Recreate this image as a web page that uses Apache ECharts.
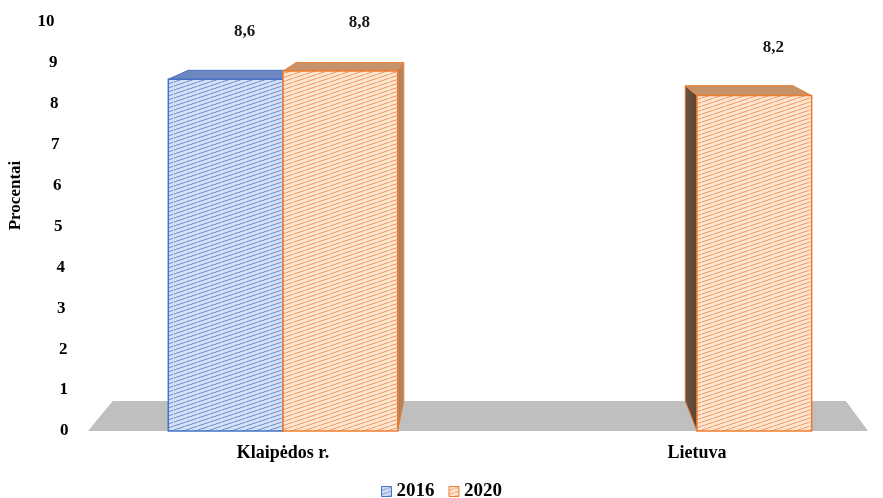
<!DOCTYPE html>
<html>
<head>
<meta charset="utf-8">
<script src="https://cdn.jsdelivr.net/npm/echarts@6/dist/echarts.min.js"></script>
<style>
  html, body { margin: 0; padding: 0; background: #ffffff; }
  #chart { width: 883px; height: 498px; }
</style>
</head>
<body>
<div id="chart"></div>
<script>
// Chart data
const categories = ['Klaipėdos r.', 'Lietuva'];
const seriesNames = ['2016', '2020'];
const values2016 = [8.6, null];
const values2020 = [8.8, 8.2];
const yTicks = [0, 1, 2, 3, 4, 5, 6, 7, 8, 9, 10];

const FONT = '"Liberation Serif", "Times New Roman", serif';

// Hatched fill tile used for the bar faces and legend icons
function hatch(bg, line) {
  const c = document.createElement('canvas');
  c.width = 12; c.height = 4;
  const g = c.getContext('2d');
  g.fillStyle = bg;
  g.fillRect(0, 0, 12, 4);
  g.strokeStyle = line;
  g.lineWidth = 1;
  for (let y0 = -4; y0 <= 8; y0 += 4) {
    g.beginPath();
    g.moveTo(0, y0 + 4);
    g.lineTo(12, y0);
    g.stroke();
  }
  // small breaks so the strokes read as dashes
  g.fillStyle = bg;
  g.globalAlpha = 0.6;
  g.fillRect(5, 0, 1, 4);
  return c;
}

const looks = [
  {
    front: { image: hatch('#d6e1f6', '#6a8cd0'), repeat: 'repeat' },
    border: '#4472c4',
    top: '#6f87c0',
    side: '#3f5c9c'
  },
  {
    front: { image: hatch('#fde6d3', '#f0985b'), repeat: 'repeat' },
    border: '#ed7d31',
    top: '#c6926a',
    side: '#b5845c',
    sideDark: '#5c4330'
  }
];

// Simple perspective: receding edges run towards a vanishing point
const DEPTH = { k: 0.06, vx: 500, vy: -70 };
function depth(x, y) {
  return [DEPTH.k * (DEPTH.vx - x), DEPTH.k * (DEPTH.vy - y)];
}

function fmt(v) {
  return String(v).replace('.', ',');
}

function barRenderer(slot, look) {
  return function (params, api) {
    const v = api.value(1);
    if (v == null || isNaN(v)) return;
    const cat = api.value(0);
    const top = api.coord([cat, v]);
    const base = api.coord([cat, 0]);
    const band = api.size([1, 0])[0];
    const w = band * 0.277;
    const xl = slot === 0 ? top[0] - w : top[0];
    const xr = xl + w;
    const yt = top[1], yb = base[1];
    const dlt = depth(xl, yt), drt = depth(xr, yt);
    const dlb = depth(xl, yb), drb = depth(xr, yb);
    const children = [];

    if (drt[0] > 0) {
      children.push({
        type: 'polygon',
        shape: { points: [[xr, yt], [xr, yb], [xr + drb[0], yb + drb[1]], [xr + drt[0], yt + drt[1]]] },
        style: { fill: look.side, stroke: look.border, lineWidth: 0.8 }
      });
    }
    if (dlt[0] < 0) {
      children.push({
        type: 'polygon',
        shape: { points: [[xl, yt], [xl, yb], [xl + dlb[0], yb + dlb[1]], [xl + dlt[0], yt + dlt[1]]] },
        style: {
          fill: new echarts.graphic.LinearGradient(0, 0, 1, 0, [
            { offset: 0, color: '#6e5340' },
            { offset: 1, color: look.sideDark || look.side }
          ]),
          stroke: look.border, lineWidth: 0.8
        }
      });
    }
    children.push({
      type: 'polygon',
      shape: { points: [[xl, yt], [xr, yt], [xr + drt[0], yt + drt[1]], [xl + dlt[0], yt + dlt[1]]] },
      style: { fill: look.top, stroke: look.border, lineWidth: 1 }
    });
    children.push({
      type: 'rect',
      shape: { x: xl, y: yt, width: w, height: yb - yt },
      style: { fill: look.front, stroke: look.border, lineWidth: 1.5 }
    });
    children.push({
      type: 'text',
      style: {
        text: fmt(v),
        x: (xl + xr) / 2 + 19,
        y: yt - 48,
        align: 'center',
        verticalAlign: 'middle',
        fontFamily: FONT,
        fontWeight: 'bold',
        fontSize: 17,
        fill: '#1a1a1a'
      }
    });
    return { type: 'group', children: children };
  };
}

// Grey floor under the bars
function floorRenderer(params, api) {
  const cs = params.coordSys;
  const y = api.coord([0, 0])[1];
  const xl = cs.x + 12;
  const xr = cs.x + cs.width - 36;
  const dl = depth(xl, y), dr = depth(xr, y);
  return {
    type: 'polygon',
    shape: { points: [[xl, y], [xr, y], [xr + dr[0], y + dr[1]], [xl + dl[0], y + dl[1]]] },
    style: { fill: '#bfbfbf' }
  };
}

// Stepped label offsets for the receding value axis
const labelPad = { 0: 7.5, 1: 8, 2: 8.5, 3: 10.5, 4: 11, 5: 13.5, 6: 14.5, 7: 16.5, 8: 17.5, 9: 18.5, 10: 21.5 };
const rich = {};
yTicks.forEach(function (t) {
  rich['t' + t] = {
    padding: [0, labelPad[t], 0, 0],
    fontFamily: FONT, fontWeight: 'bold', fontSize: 17, color: '#000'
  };
});

const chart = echarts.init(document.getElementById('chart'), null, { renderer: 'canvas' });
chart.setOption({
  animation: false,
  backgroundColor: '#ffffff',
  grid: { left: 76, top: 22, width: 828, height: 409, containLabel: false, outerBoundsMode: 'none' },
  legend: {
    left: 'center',
    top: 477,
    itemWidth: 10,
    itemHeight: 10,
    itemGap: 14,
    icon: 'rect',
    textStyle: { fontFamily: FONT, fontWeight: 'bold', fontSize: 19, color: '#000' },
    data: [
      { name: seriesNames[0], itemStyle: { color: looks[0].front, borderColor: looks[0].border, borderWidth: 1 } },
      { name: seriesNames[1], itemStyle: { color: looks[1].front, borderColor: looks[1].border, borderWidth: 1 } }
    ]
  },
  xAxis: {
    type: 'category',
    data: categories,
    axisLine: { show: false },
    axisTick: { show: false },
    axisLabel: { margin: 13, fontFamily: FONT, fontWeight: 'bold', fontSize: 18, color: '#000' }
  },
  yAxis: {
    type: 'value',
    min: 0,
    max: 10,
    interval: 1,
    axisLine: { show: false },
    axisTick: { show: false },
    splitLine: { show: false },
    axisLabel: {
      margin: 0,
      align: 'right',
      formatter: function (v) { return '{t' + v + '|' + v + '}'; },
      rich: rich
    },
    name: 'Procentai',
    nameLocation: 'middle',
    nameRotate: 90,
    nameGap: 52,
    nameTextStyle: {
      fontFamily: FONT, fontWeight: 'bold', fontSize: 17, color: '#000',
      padding: [0, 0, 0, 62]
    }
  },
  series: [
    {
      type: 'custom',
      name: 'floor',
      silent: true,
      z: 1,
      data: [[0, 0]],
      renderItem: floorRenderer
    },
    {
      type: 'custom',
      name: seriesNames[0],
      z: 2,
      itemStyle: { color: '#4472c4' },
      data: categories.map(function (c, i) { return [i, values2016[i]]; }),
      renderItem: barRenderer(0, looks[0])
    },
    {
      type: 'custom',
      name: seriesNames[1],
      z: 3,
      itemStyle: { color: '#ed7d31' },
      data: categories.map(function (c, i) { return [i, values2020[i]]; }),
      renderItem: barRenderer(1, looks[1])
    }
  ]
});
</script>
</body>
</html>
